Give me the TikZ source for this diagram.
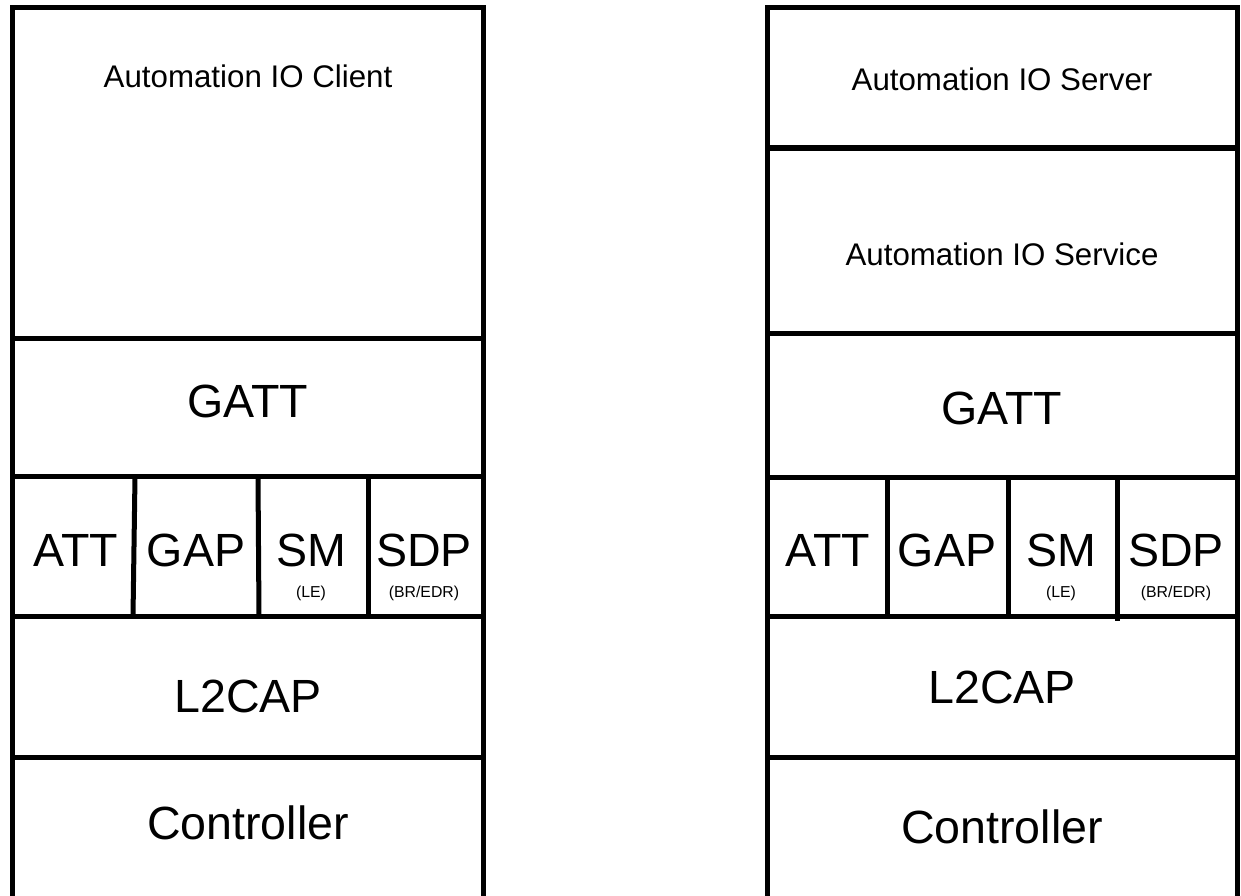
\documentclass[tikz,border=0pt]{standalone}
\usepackage{fontspec}
\setmainfont{Liberation Sans}
\usepackage{tikz}

\begin{document}
\begin{tikzpicture}[x=0.02cm,y=-0.02cm,
  stackline/.style={line width=2.85pt},
  apptext/.style={anchor=base,inner sep=0pt,font=\fontsize{17.8}{20}\selectfont},
  bigtext/.style={anchor=base,inner sep=0pt,font=\fontsize{26.5}{30}\selectfont},
  subtext/.style={anchor=base,inner sep=0pt,font=\fontsize{9}{11}\selectfont}]
\useasboundingbox (0,0) rectangle (1241,896);

% Client stack outline
\draw[stackline] (12.5,896) -- (12.5,7.5) -- (483,7.5) -- (483,896);

% Horizontal lines
\draw[stackline] (12.5,338) -- (483,338);
\draw[stackline] (12.5,476.5) -- (483,476.5);
\draw[stackline] (12.5,616.5) -- (483,616.5);
\draw[stackline] (12.5,757) -- (483,757);

% Vertical lines
\draw[stackline] (135,476.5) -- (133,616.5);
\draw[stackline] (258,476.5) -- (259,616.5);
\draw[stackline] (368,476.5) -- (368,616.5);

% Client entries
\node[apptext] (CApp) at (248,87) {Automation IO Client};
\node[bigtext] (CGATT) at (248,417) {GATT};
\node[bigtext] (CATT) at (76,566) {ATT};
\node[bigtext] (CGAP) at (196,566) {GAP};
\node[bigtext] (CSM) at (311,566) {SM};
\node[subtext] (CLE) at (311,597) {(LE)};
\node[bigtext] (CSDP) at (424,566) {SDP};
\node[subtext] (CBR) at (424,597) {(BR/EDR)};
\node[bigtext] (CL2) at (248,712) {L2CAP};
\node[bigtext] (CCtrl) at (248,839) {Controller};

% Server stack outline
\draw[stackline] (767,896) -- (767,7.5) -- (1237.5,7.5) -- (1237.5,896);

% Horizontal lines
\draw[stackline] (767,148) -- (1237.5,148);
\draw[stackline] (767,333) -- (1237.5,333);
\draw[stackline] (767,477) -- (1237.5,477);
\draw[stackline] (767,616.5) -- (1237.5,616.5);
\draw[stackline] (767,757) -- (1237.5,757);

% Vertical lines
\draw[stackline] (887,477) -- (887,616.5);
\draw[stackline] (1008,477) -- (1008,616.5);
\draw[stackline] (1117,477) -- (1117,621);

% Server entries
\node[apptext] (SApp) at (1002,90) {Automation IO Server};
\node[apptext] (SSvc) at (1002,265) {Automation IO Service};
\node[bigtext] (SGATT) at (1002,424) {GATT};
\node[bigtext] (SATT) at (828,566) {ATT};
\node[bigtext] (SGAP) at (947,566) {GAP};
\node[bigtext] (SSM) at (1061,566) {SM};
\node[subtext] (SLE) at (1061,597) {(LE)};
\node[bigtext] (SSDP) at (1176,566) {SDP};
\node[subtext] (SBR) at (1176,597) {(BR/EDR)};
\node[bigtext] (SL2) at (1002,703) {L2CAP};
\node[bigtext] (SCtrl) at (1002,843) {Controller};

\end{tikzpicture}
\end{document}
